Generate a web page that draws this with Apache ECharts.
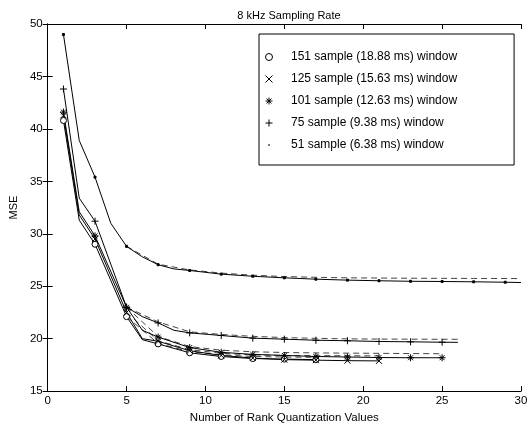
<!DOCTYPE html>
<html>
<head>
<meta charset="utf-8">
<script src="https://cdn.jsdelivr.net/npm/echarts@6/dist/echarts.min.js"></script>
<style>
  html, body { margin: 0; padding: 0; background: #fff; }
  #chart { width: 532px; height: 429px; }
</style>
</head>
<body>
<div id="chart"></div>
<script>
// window names (legend order)
var windowNames = [
    '151 sample (18.88 ms) window',
    '125 sample (15.63 ms) window',
    '101 sample (12.63 ms) window',
    '75 sample (9.38 ms) window',
    '51 sample (6.38 ms) window'
];

// measured MSE per number of rank quantization values
var x151 = [1, 2, 3, 5, 6, 7, 9, 11, 13, 15, 17];
var mse151 = [40.8, 31.3, 29.0, 22.1, 19.9, 19.5, 18.65, 18.3, 18.1, 18.05, 18.0];

var x125 = [1, 2, 3, 5, 6, 7, 9, 11, 13, 15, 17, 19, 21];
var mse125 = [41.3, 31.8, 29.5, 22.5, 20.0, 19.75, 18.85, 18.4, 18.15, 18.0, 17.95, 17.9, 17.88];

var x101 = [1, 2, 3, 5, 6, 7, 9, 11, 13, 15, 17, 19, 21, 23, 25];
var mse101 = [41.6, 32.1, 29.8, 23.0, 20.8, 20.15, 19.15, 18.7, 18.5, 18.4, 18.3, 18.25, 18.2, 18.18, 18.18];

var x75 = [1, 2, 3, 5, 6, 7, 8, 9, 11, 13, 15, 17, 19, 21, 23, 25, 26];
var mse75 = [43.8, 33.4, 31.2, 23.0, 22.1, 21.5, 20.8, 20.55, 20.3, 20.05, 19.95, 19.85, 19.8, 19.73, 19.7, 19.66, 19.65];

var x51 = [1, 2, 3, 4, 5, 6, 7, 8, 9, 11, 13, 15, 17, 19, 21, 23, 25, 27, 29, 30];
var mse51 = [49.0, 38.9, 35.4, 31.0, 28.8, 27.8, 27.05, 26.65, 26.5, 26.15, 25.95, 25.8, 25.67, 25.58, 25.52, 25.47, 25.45, 25.42, 25.38, 25.35];

// dashed (model) curves
var fitX151 = [5, 7, 9, 11, 13, 15, 17];
var fit151 = [22.1, 19.55, 18.75, 18.45, 18.3, 18.25, 18.22];
var fitX125 = [5, 7, 9, 11, 13, 15, 17, 19, 21];
var fit125 = [22.5, 19.8, 18.95, 18.6, 18.45, 18.4, 18.38, 18.37, 18.36];
var fitX101 = [5, 7, 9, 11, 13, 15, 17, 19, 21, 23, 25];
var fit101 = [23.0, 20.2, 19.25, 18.9, 18.75, 18.68, 18.64, 18.62, 18.6, 18.58, 18.56];
var fitX75 = [5, 7, 9, 11, 13, 15, 17, 19, 21, 23, 25, 26];
var fit75 = [23.0, 21.6, 20.65, 20.4, 20.22, 20.1, 20.03, 19.98, 19.96, 19.95, 19.94, 19.94];
var fitX51 = [5, 7, 9, 11, 13, 15, 17, 19, 21, 23, 25, 27, 30];
var fit51 = [28.8, 27.1, 26.55, 26.25, 26.05, 25.92, 25.85, 25.8, 25.78, 25.76, 25.75, 25.74, 25.73];

var xTicks = [0, 5, 10, 15, 20, 25, 30];
var yTicks = [15, 20, 25, 30, 35, 40, 45, 50];

var FONT = 'Liberation Sans';

// marker shapes
var markCross = 'path://M0,0L10,10M10,0L0,10';
var markPlus = 'path://M5,0L5,10M0,5L10,5';
var markStar = 'path://M5,0L5,10M0,5L10,5M1.5,1.5L8.5,8.5M8.5,1.5L1.5,8.5';
var markDotLegend = 'path://M0,0M10,10M4,4L6,4L6,6L4,6Z';

function pairs(xs, ys) {
    return xs.map(function (x, i) { return [x, ys[i]]; });
}

function mainSeries(name, xs, ys, shape, size, fill) {
    return {
        name: name,
        type: 'line',
        data: pairs(xs, ys),
        color: '#000',
        symbol: function (v) { return v[0] % 2 === 1 ? shape : 'none'; },
        symbolSize: size,
        showAllSymbol: true,
        lineStyle: { color: '#000', width: 1 },
        itemStyle: { color: fill, borderColor: '#000', borderWidth: 1 },
        z: 3
    };
}

function fitSeries(xs, ys) {
    return {
        type: 'line',
        data: pairs(xs, ys),
        symbol: 'none',
        lineStyle: { color: '#444', width: 1, type: [6, 4] },
        silent: true,
        z: 2
    };
}

var axisCommon = {
    type: 'value',
    axisLine: { show: true, lineStyle: { color: '#000', width: 1 } },
    axisTick: { show: true, inside: true, length: 5, lineStyle: { color: '#000' } },
    splitLine: { show: false }
};

var chart = echarts.init(document.getElementById('chart'));
chart.setOption({
    animation: false,
    backgroundColor: '#fff',
    title: {
        text: '8 kHz Sampling Rate',
        left: 284,
        textAlign: 'center',
        top: 5,
        textStyle: { fontFamily: FONT, fontSize: 11, fontWeight: 'normal', color: '#000' }
    },
    grid: { left: 47, right: 11, top: 24, bottom: 35 },
    legend: {
        orient: 'vertical',
        left: 259,
        top: 34,
        padding: [17, 57, 14, 4],
        itemGap: 10,
        itemWidth: 14,
        itemHeight: 7,
        borderColor: '#000',
        borderWidth: 1,
        backgroundColor: '#fff',
        selectedMode: false,
        textStyle: { fontFamily: FONT, fontSize: 12, color: '#000', padding: [0, 0, 0, 10] },
        data: [
            { name: windowNames[0], icon: 'circle', itemStyle: { color: '#fff', borderColor: '#000', borderWidth: 1 } },
            { name: windowNames[1], icon: markCross, itemStyle: { color: 'none', borderColor: '#000', borderWidth: 1 } },
            { name: windowNames[2], icon: markStar, itemStyle: { color: 'none', borderColor: '#000', borderWidth: 1 } },
            { name: windowNames[3], icon: markPlus, itemStyle: { color: 'none', borderColor: '#000', borderWidth: 1 } },
            { name: windowNames[4], icon: markDotLegend, itemStyle: { color: '#000', borderColor: '#000', borderWidth: 0 } }
        ]
    },
    xAxis: [
        Object.assign({}, axisCommon, {
            position: 'bottom',
            min: xTicks[0], max: xTicks[xTicks.length - 1], interval: 5,
            name: 'Number of Rank Quantization Values',
            nameLocation: 'middle',
            nameGap: 20,
            nameTextStyle: { fontFamily: FONT, fontSize: 11.5, color: '#000' },
            axisLabel: { fontFamily: FONT, fontSize: 11.5, color: '#000', margin: 4 }
        }),
        Object.assign({}, axisCommon, {
            position: 'top',
            min: xTicks[0], max: xTicks[xTicks.length - 1], interval: 5,
            axisLabel: { show: false }
        })
    ],
    yAxis: [
        Object.assign({}, axisCommon, {
            position: 'left',
            min: yTicks[0], max: yTicks[yTicks.length - 1], interval: 5,
            name: 'MSE',
            nameLocation: 'middle',
            nameGap: 28,
            nameTextStyle: { fontFamily: FONT, fontSize: 11, color: '#000' },
            axisLabel: { fontFamily: FONT, fontSize: 11.5, color: '#000', margin: 5 }
        }),
        Object.assign({}, axisCommon, {
            position: 'right',
            min: yTicks[0], max: yTicks[yTicks.length - 1], interval: 5,
            axisLabel: { show: false }
        })
    ],
    series: [
        fitSeries(fitX151, fit151),
        fitSeries(fitX125, fit125),
        fitSeries(fitX101, fit101),
        fitSeries(fitX75, fit75),
        fitSeries(fitX51, fit51),
        mainSeries(windowNames[0], x151, mse151, 'circle', 6, '#fff'),
        mainSeries(windowNames[1], x125, mse125, markCross, 6, 'none'),
        mainSeries(windowNames[2], x101, mse101, markStar, 7, 'none'),
        mainSeries(windowNames[3], x75, mse75, markPlus, 7, 'none'),
        mainSeries(windowNames[4], x51, mse51, 'rect', 2, '#000')
    ]
});
</script>
</body>
</html>
